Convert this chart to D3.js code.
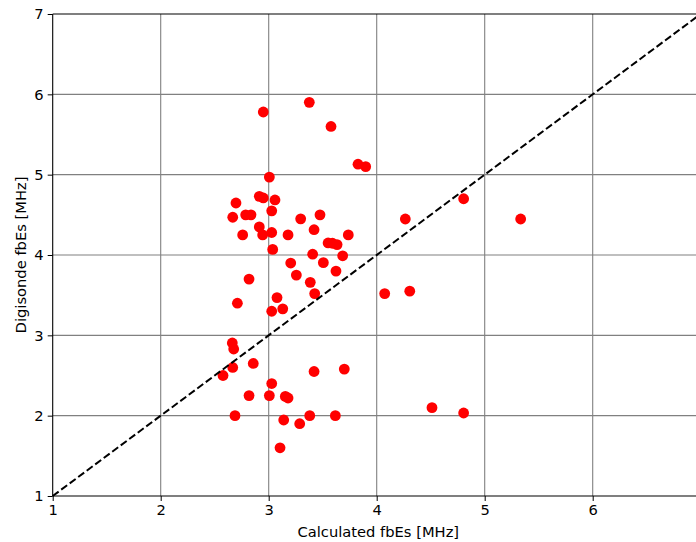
<!DOCTYPE html>
<html><head><meta charset="utf-8">
<script src="https://cdn.jsdelivr.net/npm/d3@7"></script>
<style>
html,body{margin:0;padding:0;background:#fff;overflow:hidden;}
svg{display:block;}
text{font-family:"DejaVu Sans",sans-serif;fill:#000;}
</style></head><body>
<svg id="chart" width="696" height="542"></svg>
<script>
const calculated = [2.95,3.376,3.577,3.827,3.898,3.006,2.913,2.95,3.058,2.697,2.667,2.787,2.836,3.028,3.296,3.475,2.913,3.42,2.759,2.944,3.028,3.179,3.737,3.55,3.59,3.633,3.037,3.407,3.685,3.204,3.506,3.256,3.623,2.818,3.385,4.074,3.077,3.426,2.71,3.028,3.13,2.663,2.676,2.857,2.667,3.70,3.42,2.577,3.028,2.818,3.006,3.154,3.179,2.688,3.38,3.617,3.139,3.287,3.105,4.265,4.805,5.333,4.306,4.512,4.805];
const digisonde  = [5.78,5.90,5.60,5.13,5.10,4.97,4.73,4.71,4.685,4.647,4.47,4.50,4.50,4.55,4.45,4.50,4.35,4.315,4.25,4.25,4.28,4.25,4.25,4.15,4.146,4.13,4.07,4.01,3.99,3.90,3.905,3.75,3.80,3.70,3.66,3.52,3.47,3.52,3.40,3.30,3.33,2.905,2.83,2.65,2.60,2.58,2.55,2.50,2.40,2.25,2.25,2.24,2.22,2.00,2.00,2.00,1.946,1.90,1.60,4.448,4.70,4.448,3.55,2.10,2.033];
const xTicks = [1,2,3,4,5,6];
const yTicks = [1,2,3,4,5,6,7];
const xLabel = "Calculated fbEs [MHz]";
const yLabel = "Digisonde fbEs [MHz]";

const svg = d3.select("#chart");
const L = 52.7, R = 700.7, T = 14, B = 496;
const FS = "14.7px";
const x = d3.scaleLinear().domain([1,7]).range([L,R]);
const y = d3.scaleLinear().domain([1,7]).range([B,T]);

// grid
const g = svg.append("g");
g.selectAll("line.gx").data(xTicks.slice(1)).join("line")
  .attr("x1",d=>x(d)).attr("x2",d=>x(d)).attr("y1",T).attr("y2",B)
  .attr("stroke","#808080").attr("stroke-width",1.1);
g.selectAll("line.gy").data(yTicks.slice(1,-1)).join("line")
  .attr("x1",L).attr("x2",R).attr("y1",d=>y(d)).attr("y2",d=>y(d))
  .attr("stroke","#808080").attr("stroke-width",1.1);

// points
const pts = calculated.map((c,i)=>({c, d:digisonde[i]}));
svg.append("g").selectAll("circle").data(pts).join("circle")
  .attr("cx",p=>x(p.c)).attr("cy",p=>y(p.d)).attr("r",5.4).attr("fill","#ff0000");

// 1:1 line
svg.append("line")
  .attr("x1",x(1)).attr("y1",y(1)).attr("x2",x(7)).attr("y2",y(7))
  .attr("stroke","#000").attr("stroke-width",2).attr("stroke-dasharray","7.4,3.2");

// axes
const xAxis = d3.axisBottom(x).tickValues(xTicks).tickFormat(d3.format("d")).tickSize(5).tickPadding(4);
const yAxis = d3.axisLeft(y).tickValues(yTicks).tickFormat(d3.format("d")).tickSize(5).tickPadding(4);
const gx = svg.append("g").attr("transform",`translate(0,${B})`).call(xAxis);
const gy = svg.append("g").attr("transform",`translate(${L},0)`).call(yAxis);
[gx,gy].forEach(a=>{
  a.select(".domain").remove();
  a.selectAll(".tick line").attr("stroke","#000").attr("stroke-width",1);
  a.selectAll(".tick text").style("font-family","DejaVu Sans").style("font-size",FS).attr("fill","#000");
});
// spines
svg.append("line").attr("x1",L).attr("x2",L).attr("y1",T).attr("y2",B).attr("stroke","#000").attr("stroke-width",1.1);
svg.append("line").attr("x1",L).attr("x2",R).attr("y1",B).attr("y2",B).attr("stroke","#000").attr("stroke-width",1.1);
svg.append("line").attr("x1",L).attr("x2",R).attr("y1",T).attr("y2",T).attr("stroke","#000").attr("stroke-width",1.1);
svg.append("line").attr("x1",R).attr("x2",R).attr("y1",T).attr("y2",B).attr("stroke","#000").attr("stroke-width",1.1);

svg.append("text").attr("x",378.3).attr("y",536.5).attr("text-anchor","middle")
  .style("font-size",FS).text(xLabel);
svg.append("text").attr("transform",`translate(26,${(T+B)/2}) rotate(-90)`).attr("text-anchor","middle")
  .style("font-size",FS).text(yLabel);
</script>
</body></html>
